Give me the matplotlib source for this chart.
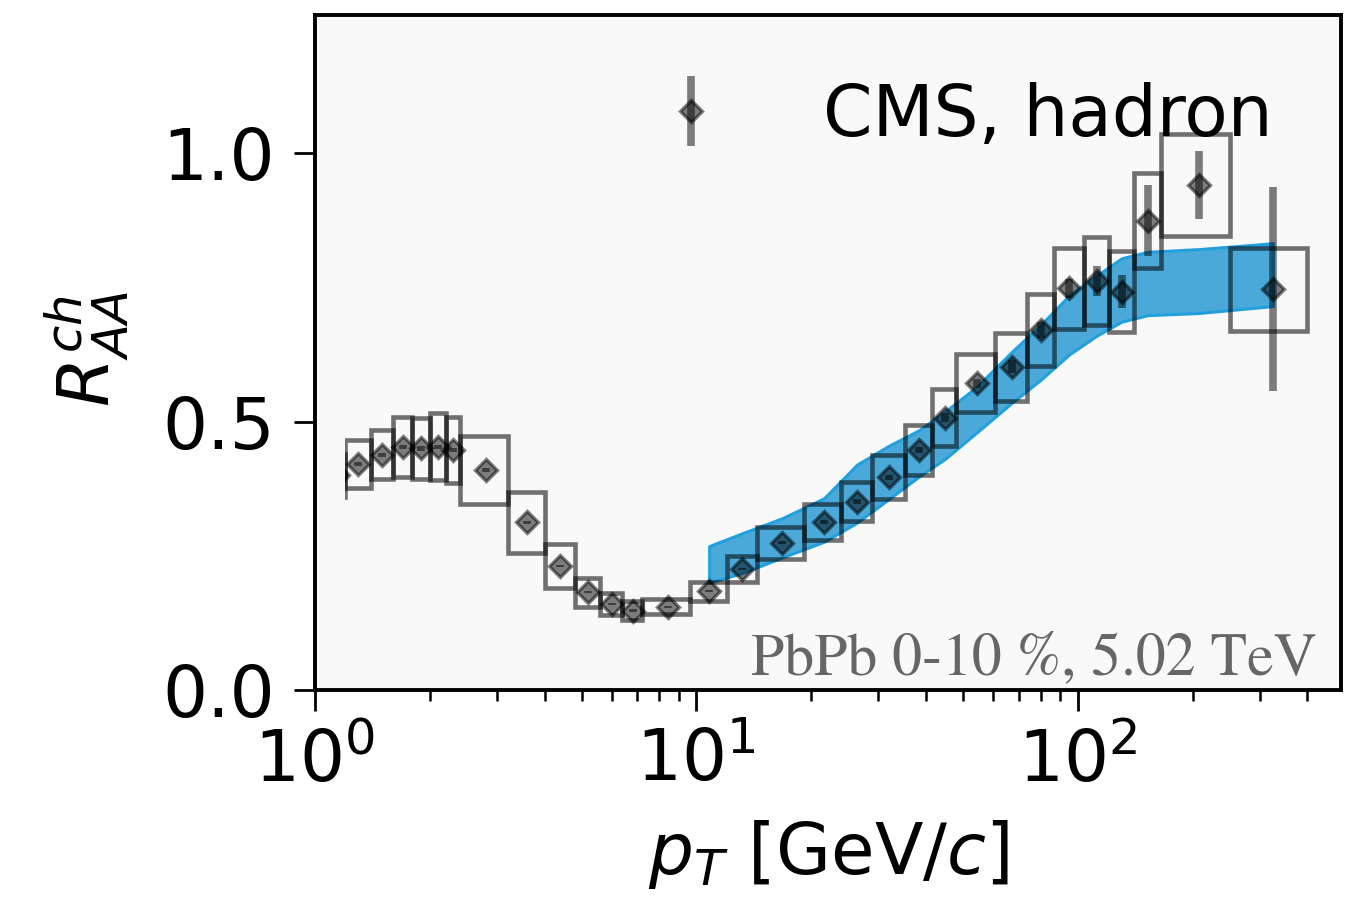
import matplotlib
matplotlib.use("Agg")
import matplotlib.pyplot as plt
import numpy as np

# ---------------- data ----------------
bin_edges = [1.1, 1.2, 1.4, 1.6, 1.8, 2.0, 2.2, 2.4, 3.2, 4.0, 4.8, 5.6, 6.4, 7.2,
             9.6, 12.0, 14.4, 19.2, 24.0, 28.8, 35.2, 41.6, 48.0, 60.8, 73.6,
             86.4, 103.6, 120.8, 140.0, 165.0, 250.0, 400.0]
pt = [1.15, 1.3, 1.5, 1.7, 1.9, 2.1, 2.3, 2.8, 3.6, 4.4, 5.2, 6.0, 6.8, 8.4,
      10.8, 13.2, 16.8, 21.6, 26.4, 32.0, 38.4, 44.8, 54.4, 67.2, 80.0, 95.0,
      112.2, 130.4, 152.5, 207.5, 325.0]
raa = [0.400, 0.421, 0.438, 0.453, 0.450, 0.453, 0.447, 0.410, 0.312, 0.231,
       0.182, 0.160, 0.148, 0.155, 0.184, 0.226, 0.274, 0.313, 0.351, 0.396,
       0.447, 0.507, 0.571, 0.602, 0.670, 0.748, 0.762, 0.742, 0.874, 0.940,
       0.746]
stat_err = [0.004, 0.004, 0.004, 0.004, 0.004, 0.004, 0.004, 0.004, 0.003,
            0.002, 0.002, 0.002, 0.002, 0.002, 0.002, 0.002, 0.003, 0.003,
            0.004, 0.005, 0.006, 0.008, 0.009, 0.012, 0.015, 0.018, 0.028,
            0.031, 0.066, 0.063, 0.190]
sys_err = [0.040, 0.044, 0.046, 0.056, 0.057, 0.062, 0.062, 0.063, 0.057,
           0.041, 0.027, 0.021, 0.017, 0.014, 0.018, 0.024, 0.030, 0.034,
           0.037, 0.041, 0.046, 0.053, 0.054, 0.063, 0.067, 0.075, 0.082,
           0.076, 0.089, 0.095, 0.077]

theory_pt = [10.8, 13.2, 16.8, 21.6, 26.4, 32.0, 38.4, 44.8, 54.4, 67.2, 80.0,
             95.0, 112.2, 130.4, 152.5, 207.5, 325.0]
theory_hi = [0.268, 0.292, 0.320, 0.357, 0.420, 0.455, 0.484, 0.518, 0.565,
             0.630, 0.680, 0.735, 0.772, 0.804, 0.816, 0.821, 0.832]
theory_lo = [0.200, 0.218, 0.247, 0.276, 0.312, 0.356, 0.398, 0.430, 0.480,
             0.535, 0.578, 0.625, 0.660, 0.686, 0.698, 0.702, 0.715]

y_ticks = [0.0, 0.5, 1.0]
label_data = "CMS, hadron"
label_info = "PbPb 0-10 %, 5.02 TeV"

# ---------------- figure ----------------
FS = 51
W, H = 1362, 902
fig = plt.figure(figsize=(W / 100, H / 100), dpi=100)
L, R, B, T = 315, 1341, 690, 15
ax = fig.add_axes([L / W, 1 - B / H, (R - L) / W, (B - T) / H])
bg = "#f9f9f9"
ax.set_facecolor(bg)

ax.set_xscale("log")
ax.set_xlim(1.0, 490)
ax.set_ylim(0.0, 1.257)

# theory band
ax.fill_between(theory_pt, theory_lo, theory_hi, facecolor="#4aa9d9",
                edgecolor="#22a0dd", linewidth=2.2, zorder=1)

# systematic boxes
lo = np.array(bin_edges[:-1])
hi = np.array(bin_edges[1:])
yv = np.array(raa)
sv = np.array(sys_err)
ax.bar(lo, 2 * sv, width=hi - lo, bottom=yv - sv, align="edge", fill=False,
       edgecolor=(0, 0, 0, 0.55), linewidth=3.3, zorder=2)

# data points with statistical errors
ax.errorbar(pt, raa, yerr=stat_err, fmt="D", color="k", alpha=0.5, ms=11,
            mew=2.4, elinewidth=5.5, capsize=0, zorder=3, label=label_data)

# blank strip at low pT (data region begins at 1.2 GeV)
ax.axvspan(1.0, 1.2, facecolor=bg, edgecolor="none", zorder=4)

# axes styling
for s in ax.spines.values():
    s.set_linewidth(2.8)
    s.set_zorder(5)
ax.set_yticks(y_ticks)
ax.set_yticklabels([f"{v:.1f}" for v in y_ticks])
ax.tick_params(axis="both", which="major", labelsize=FS, length=15, width=2.0)
ax.tick_params(axis="y", which="major", pad=14)
ax.tick_params(axis="x", which="major", pad=12)
ax.tick_params(axis="both", which="minor", length=8, width=1.8)
ax.tick_params(axis="y", which="minor", left=False)

ax.set_xlabel(r"$p_T$ [GeV/$c$]", fontsize=FS)
ax.set_ylabel(r"$R^{ch}_{AA}$", fontsize=FS)
ax.xaxis.set_label_coords(0.5, -0.19)
ax.yaxis.set_label_coords(-0.179, 0.505)

ax.text(0.976, 0.023, label_info, transform=ax.transAxes, ha="right",
        va="baseline", fontsize=43, color="#666666", family="STIXGeneral",
        zorder=6)

leg = ax.legend(loc="upper right", bbox_to_anchor=(0.961, 0.943),
                borderaxespad=0.0, frameon=False, fontsize=FS,
                handletextpad=0.86)

fig.savefig("out.png", dpi=100, facecolor="white")
